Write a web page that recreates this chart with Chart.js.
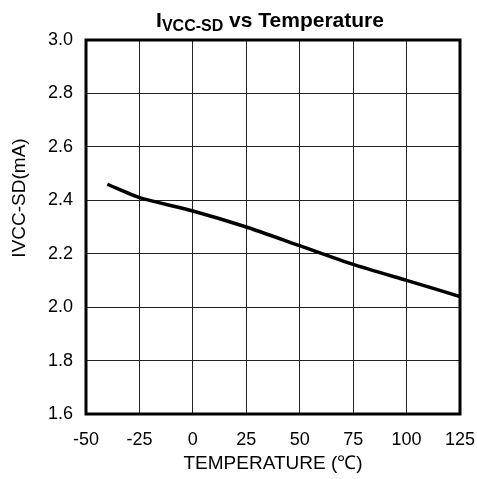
<!DOCTYPE html>
<html lang="en">
<head>
    <meta charset="UTF-8">
    <title>IVCC-SD vs Temperature</title>
    <script src="https://cdn.jsdelivr.net/npm/chart.js"></script>
    <style>
        html, body { margin: 0; padding: 0; background: #fff; }
        #wrap { width: 477px; height: 479px; }
    </style>
</head>
<body>
    <div id="wrap"><canvas id="chart" width="477" height="479"></canvas></div>

    <script>
        // data
        const temps = [-40, -25, 0, 25, 50, 75, 100, 125];
        const current = [2.46, 2.41, 2.36, 2.30, 2.23, 2.16, 2.10, 2.04];
        const xTicks = [-50, -25, 0, 25, 50, 75, 100, 125];
        const yTicks = [1.6, 1.8, 2.0, 2.2, 2.4, 2.6, 2.8, 3.0];

        const FONT = "'Liberation Sans', Arial, sans-serif";

        // title with subscript, plot frame and y label drawn by hand
        const extras = {
            id: 'extras',
            afterDraw(chart) {
                const c = chart.ctx;
                const a = chart.chartArea;
                c.save();
                c.strokeStyle = '#000';
                c.lineWidth = 3;
                c.strokeRect(a.left, a.top, a.right - a.left, a.bottom - a.top);

                // title: I + sub(VCC-SD) + " vs Temperature"
                const big = 'bold 21px ' + FONT, small = 'bold 16px ' + FONT;
                c.font = big;
                const w1 = c.measureText('I').width;
                const w3 = c.measureText(' vs Temperature').width;
                c.font = small;
                const w2 = c.measureText('VCC-SD').width;
                let x = 270 - (w1 + w2 + w3) / 2;
                const base = 27;
                c.fillStyle = '#000';
                c.textBaseline = 'alphabetic';
                c.textAlign = 'left';
                c.font = big; c.fillText('I', x, base); x += w1;
                c.font = small; c.fillText('VCC-SD', x, base + 4); x += w2;
                c.font = big; c.fillText(' vs Temperature', x, base);

                // y axis label
                c.font = '19px ' + FONT;
                c.translate(20, 198);
                c.rotate(-Math.PI / 2);
                c.textAlign = 'center';
                c.textBaseline = 'middle';
                c.fillText('IVCC-SD(mA)', 0, 0);
                c.restore();
            }
        };

        new Chart(document.getElementById('chart'), {
            type: 'line',
            data: {
                datasets: [{
                    data: temps.map((t, i) => ({ x: t, y: current[i] })),
                    borderColor: '#000',
                    borderWidth: 3.5,
                    pointRadius: 0,
                    tension: 0.2,
                    fill: false
                }]
            },
            options: {
                responsive: false,
                animation: false,
                layout: { padding: { top: 40, right: 17, bottom: 0, left: 0 } },
                plugins: { legend: { display: false }, tooltip: { enabled: false } },
                scales: {
                    x: {
                        type: 'linear',
                        min: -50, max: 125,
                        afterBuildTicks: s => { s.ticks = xTicks.map(v => ({ value: v })); },
                        afterFit: s => { s.height = 65; s.paddingLeft = 0; s.paddingRight = 0; },
                        grid: { color: '#222', lineWidth: 1, drawTicks: false },
                        border: { display: false },
                        ticks: { color: '#000', padding: 15, font: { family: FONT, size: 18 } },
                        title: {
                            display: true, text: 'TEMPERATURE (\u2103)', color: '#000',
                            font: { family: FONT, size: 19 }, padding: { top: 0 }
                        }
                    },
                    y: {
                        min: 1.6, max: 3.0,
                        afterBuildTicks: s => { s.ticks = yTicks.map(v => ({ value: v })); },
                        afterFit: s => { s.width = 86; s.paddingTop = 0; s.paddingBottom = 0; },
                        grid: { color: '#222', lineWidth: 1, drawTicks: false },
                        border: { display: false },
                        ticks: {
                            color: '#000', padding: 13, font: { family: FONT, size: 18 },
                            callback: v => v.toFixed(1)
                        }
                    }
                }
            },
            plugins: [extras]
        });
    </script>
</body>
</html>
